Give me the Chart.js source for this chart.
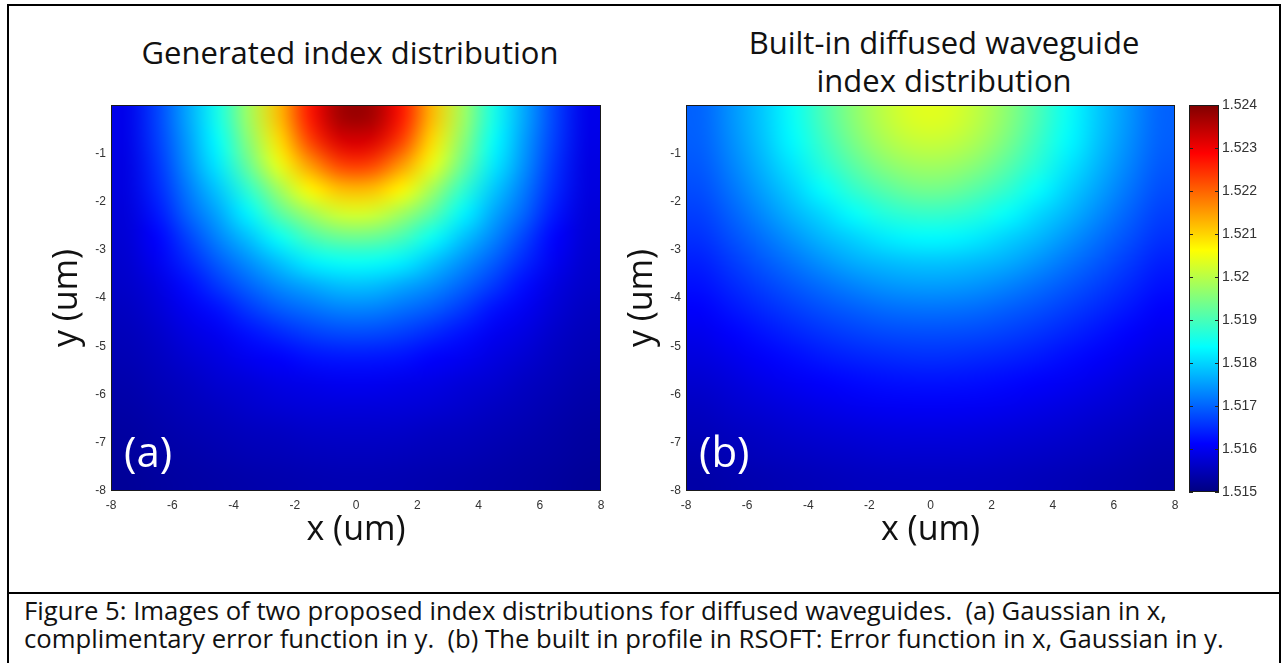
<!DOCTYPE html>
<html>
<head>
<meta charset="utf-8">
<script src="https://cdn.jsdelivr.net/npm/chart.js@4.4.1/dist/chart.umd.min.js"></script>
<style>
  body { margin: 0; width: 1285px; height: 663px; background: #fff; position: relative; overflow: hidden; font-family: 'Open Sans', sans-serif; color: #111; }
  canvas { position: absolute; top: 0; }
  .frame { position: absolute; left: 7px; top: 4px; width: 1274px; height: 590px; border: 2px solid #000; box-sizing: border-box; }
  .capbox { position: absolute; left: 7px; top: 592px; width: 1274px; height: 90px; border-left: 2px solid #000; border-right: 2px solid #000; box-sizing: border-box; }
  .title { position: absolute; font-size: 31px; line-height: 38px; text-align: center; transform: translateX(-50%); white-space: nowrap; }
  .tag { position: absolute; font-size: 42px; line-height: 48px; color: #fff; }
  .caption { position: absolute; left: 24px; top: 597px; font-size: 25.7px; line-height: 28px; white-space: pre; }
</style>
</head>
<body>
<div class="frame"></div>
<div class="capbox"></div>
<div class="title" style="left:350px; top:33px;">Generated index distribution</div>
<div class="title" style="left:944px; top:23px;">Built-in diffused waveguide<br>index distribution</div>

<canvas id="chartA" width="640" height="592" style="left:0px"></canvas>
<canvas id="chartB" width="580" height="592" style="left:620px"></canvas>
<canvas id="chartBar" width="105" height="592" style="left:1180px"></canvas>

<div class="tag" style="left:124px; top:427px;">(a)</div>
<div class="tag" style="left:699px; top:427px;">(b)</div>
<div class="caption">Figure 5: Images of two proposed index distributions for diffused waveguides.  (a) Gaussian in x,
complimentary error function in y.  (b) The built in profile in RSOFT: Error function in x, Gaussian in y.</div>

<script>
// grid cell centres (um)
var xCells = [-7.5, -6.5, -5.5, -4.5, -3.5, -2.5, -1.5, -0.5, 0.5, 1.5, 2.5, 3.5, 4.5, 5.5, 6.5, 7.5];
var yCells = [-0.25, -0.75, -1.25, -1.75, -2.25, -2.75, -3.25, -3.75, -4.25, -4.75, -5.25, -5.75, -6.25, -6.75, -7.25, -7.75];

var xTicks = [-8, -6, -4, -2, 0, 2, 4, 6, 8];
var yTicks = [-1, -2, -3, -4, -5, -6, -7, -8];
var colorbarTicks = [1.515, 1.516, 1.517, 1.518, 1.519, 1.52, 1.521, 1.522, 1.523, 1.524];

var indexMin = 1.515;
var indexMax = 1.524;

// index above 1.515, in units of 1e-3 (rows top to bottom, columns left to right)
var generatedRows = [
    [0.95, 1.7, 2.6, 3.55, 4.8, 6.2, 7.7, 8.7, 8.7, 7.7, 6.2, 4.8, 3.55, 2.6, 1.7, 0.95],
    [0.92, 1.65, 2.5, 3.4, 4.6, 5.9, 7.3, 8.2, 8.2, 7.3, 5.9, 4.6, 3.4, 2.5, 1.65, 0.92],
    [0.88, 1.55, 2.4, 3.2, 4.3, 5.45, 6.5, 7.3, 7.3, 6.5, 5.45, 4.3, 3.2, 2.4, 1.55, 0.88],
    [0.85, 1.45, 2.2, 2.9, 3.8, 4.8, 5.7, 6.2, 6.2, 5.7, 4.8, 3.8, 2.9, 2.2, 1.45, 0.85],
    [0.8, 1.3, 2.0, 2.6, 3.3, 4.15, 4.8, 5.25, 5.25, 4.8, 4.15, 3.3, 2.6, 2.0, 1.3, 0.8],
    [0.75, 1.12, 1.7, 2.3, 2.85, 3.45, 4.0, 4.3, 4.3, 4.0, 3.45, 2.85, 2.3, 1.7, 1.12, 0.75],
    [0.7, 1.0, 1.45, 1.95, 2.4, 2.85, 3.25, 3.45, 3.45, 3.25, 2.85, 2.4, 1.95, 1.45, 1.0, 0.7],
    [0.65, 0.85, 1.2, 1.6, 2.0, 2.35, 2.6, 2.8, 2.8, 2.6, 2.35, 2.0, 1.6, 1.2, 0.85, 0.65],
    [0.58, 0.75, 1.0, 1.25, 1.6, 1.9, 2.1, 2.25, 2.25, 2.1, 1.9, 1.6, 1.25, 1.0, 0.75, 0.58],
    [0.52, 0.65, 0.85, 1.0, 1.25, 1.45, 1.65, 1.75, 1.75, 1.65, 1.45, 1.25, 1.0, 0.85, 0.65, 0.52],
    [0.46, 0.57, 0.72, 0.85, 1.0, 1.1, 1.25, 1.3, 1.3, 1.25, 1.1, 1.0, 0.85, 0.72, 0.57, 0.46],
    [0.4, 0.5, 0.6, 0.72, 0.8, 0.9, 0.95, 1.0, 1.0, 0.95, 0.9, 0.8, 0.72, 0.6, 0.5, 0.4],
    [0.35, 0.43, 0.52, 0.6, 0.68, 0.75, 0.8, 0.82, 0.82, 0.8, 0.75, 0.68, 0.6, 0.52, 0.43, 0.35],
    [0.3, 0.37, 0.44, 0.5, 0.56, 0.6, 0.65, 0.67, 0.67, 0.65, 0.6, 0.56, 0.5, 0.44, 0.37, 0.3],
    [0.26, 0.32, 0.37, 0.42, 0.47, 0.5, 0.53, 0.55, 0.55, 0.53, 0.5, 0.47, 0.42, 0.37, 0.32, 0.26],
    [0.22, 0.27, 0.31, 0.35, 0.38, 0.41, 0.44, 0.45, 0.45, 0.44, 0.41, 0.38, 0.35, 0.31, 0.27, 0.22]
];

var builtInRows = [
    [2.0, 2.43, 2.9, 3.44, 4.03, 4.6, 5.05, 5.33, 5.33, 5.05, 4.6, 4.03, 3.44, 2.9, 2.43, 2.0],
    [1.97, 2.38, 2.85, 3.35, 3.9, 4.45, 4.88, 5.12, 5.12, 4.88, 4.45, 3.9, 3.35, 2.85, 2.38, 1.97],
    [1.9, 2.28, 2.72, 3.17, 3.7, 4.17, 4.57, 4.78, 4.78, 4.57, 4.17, 3.7, 3.17, 2.72, 2.28, 1.9],
    [1.8, 2.15, 2.55, 2.96, 3.4, 3.82, 4.14, 4.37, 4.37, 4.14, 3.82, 3.4, 2.96, 2.55, 2.15, 1.8],
    [1.68, 1.99, 2.35, 2.72, 3.05, 3.41, 3.68, 3.83, 3.83, 3.68, 3.41, 3.05, 2.72, 2.35, 1.99, 1.68],
    [1.55, 1.82, 2.12, 2.44, 2.75, 2.99, 3.21, 3.33, 3.33, 3.21, 2.99, 2.75, 2.44, 2.12, 1.82, 1.55],
    [1.39, 1.64, 1.9, 2.16, 2.42, 2.65, 2.78, 2.86, 2.86, 2.78, 2.65, 2.42, 2.16, 1.9, 1.64, 1.39],
    [1.25, 1.46, 1.68, 1.89, 2.1, 2.28, 2.42, 2.49, 2.49, 2.42, 2.28, 2.1, 1.89, 1.68, 1.46, 1.25],
    [1.1, 1.28, 1.47, 1.65, 1.81, 1.95, 2.06, 2.11, 2.11, 2.06, 1.95, 1.81, 1.65, 1.47, 1.28, 1.1],
    [0.96, 1.11, 1.27, 1.42, 1.56, 1.67, 1.75, 1.79, 1.79, 1.75, 1.67, 1.56, 1.42, 1.27, 1.11, 0.96],
    [0.83, 0.95, 1.08, 1.2, 1.32, 1.41, 1.47, 1.51, 1.51, 1.47, 1.41, 1.32, 1.2, 1.08, 0.95, 0.83],
    [0.71, 0.81, 0.92, 1.02, 1.1, 1.18, 1.23, 1.26, 1.26, 1.23, 1.18, 1.1, 1.02, 0.92, 0.81, 0.71],
    [0.6, 0.69, 0.77, 0.85, 0.92, 0.98, 1.03, 1.05, 1.05, 1.03, 0.98, 0.92, 0.85, 0.77, 0.69, 0.6],
    [0.51, 0.58, 0.64, 0.71, 0.76, 0.81, 0.84, 0.86, 0.86, 0.84, 0.81, 0.76, 0.71, 0.64, 0.58, 0.51],
    [0.42, 0.48, 0.54, 0.59, 0.63, 0.67, 0.7, 0.71, 0.71, 0.7, 0.67, 0.63, 0.59, 0.54, 0.48, 0.42],
    [0.35, 0.4, 0.44, 0.48, 0.52, 0.55, 0.57, 0.58, 0.58, 0.57, 0.55, 0.52, 0.48, 0.44, 0.4, 0.35]
];

var tickFont = { family: 'Liberation Sans', size: 12 };
var tickColor = '#333';
var labelFont = { family: 'Open Sans', size: 34, lineHeight: 1.3 };

// matlab "jet" colour map
function jet(v) {
    var t = (v - indexMin) / (indexMax - indexMin);
    function ch(c) { return Math.round(255 * Math.max(0, Math.min(1, 1.5 - Math.abs(4 * t - c)))); }
    return 'rgb(' + ch(3) + ',' + ch(2) + ',' + ch(1) + ')';
}

// one pixel per cell, then stretched over the cell rectangle given by the scales (smoothed like shading interp)
var heatmapPlugin = {
    id: 'heatmap',
    beforeDatasetsDraw: function (chart, args, opts) {
        var ctx = chart.ctx, xs = chart.scales.x, ys = chart.scales.y;
        var rows = opts.rows;
        var hx = (xCells[1] - xCells[0]) / 2, hy = (yCells[0] - yCells[1]) / 2;

        var off = document.createElement('canvas');
        off.width = xCells.length;
        off.height = yCells.length;
        var octx = off.getContext('2d');
        rows.forEach(function (row, i) {
            row.forEach(function (d, j) {
                octx.fillStyle = jet(indexMin + d / 1000);
                octx.fillRect(j, i, 1, 1);
            });
        });

        var x0 = xs.getPixelForValue(xCells[0] - hx);
        var x1 = xs.getPixelForValue(xCells[xCells.length - 1] + hx);
        var y0 = ys.getPixelForValue(yCells[0] + hy);
        var y1 = ys.getPixelForValue(yCells[yCells.length - 1] - hy);

        ctx.save();
        ctx.imageSmoothingEnabled = true;
        ctx.imageSmoothingQuality = 'high';
        ctx.drawImage(off, x0, y0, x1 - x0, y1 - y0);
        ctx.restore();
    },
    afterDatasetsDraw: function (chart) {
        var ctx = chart.ctx, a = chart.chartArea;
        ctx.save();
        ctx.strokeStyle = '#1a1a1a';
        ctx.lineWidth = 1;
        ctx.strokeRect(a.left + 0.5, a.top + 0.5, a.right - a.left - 1, a.bottom - a.top - 1);
        ctx.restore();
    }
};

function heatConfig(rows, padLeft, padRight) {
    return {
        type: 'scatter',
        data: { datasets: [{ data: [] }] },
        options: {
            responsive: false,
            animation: false,
            layout: { padding: { left: padLeft, right: padRight, top: 105, bottom: 40 } },
            plugins: {
                legend: { display: false },
                tooltip: { enabled: false },
                heatmap: { rows: rows }
            },
            scales: {
                x: {
                    type: 'linear', min: -8, max: 8,
                    grid: { display: false, drawTicks: false },
                    border: { display: false },
                    afterBuildTicks: function (s) { s.ticks = xTicks.map(function (v) { return { value: v }; }); },
                    afterFit: function (s) { s.height = 61; },
                    ticks: { padding: 7, color: tickColor, font: tickFont, maxRotation: 0, autoSkip: false },
                    title: { display: true, text: 'x (um)', font: labelFont, color: '#111', padding: 0 }
                },
                y: {
                    type: 'linear', min: -8, max: 0,
                    grid: { display: false, drawTicks: false },
                    border: { display: false },
                    afterBuildTicks: function (s) { s.ticks = yTicks.map(function (v) { return { value: v }; }); },
                    afterFit: function (s) { s.width = 66; },
                    ticks: { padding: 5, color: tickColor, font: tickFont, autoSkip: false },
                    title: { display: true, text: 'y (um)', font: labelFont, color: '#111', padding: 0 }
                }
            }
        },
        plugins: [heatmapPlugin]
    };
}

var colorbarPlugin = {
    id: 'colorbar',
    beforeDatasetsDraw: function (chart) {
        var ctx = chart.ctx, a = chart.chartArea, ys = chart.scales.y;
        var g = ctx.createLinearGradient(0, ys.getPixelForValue(indexMin), 0, ys.getPixelForValue(indexMax));
        [0, 0.125, 0.375, 0.625, 0.875, 1].forEach(function (t) {
            g.addColorStop(t, jet(indexMin + t * (indexMax - indexMin)));
        });
        ctx.save();
        ctx.fillStyle = g;
        ctx.fillRect(a.left, a.top, a.right - a.left, a.bottom - a.top);
        ctx.strokeStyle = '#222';
        ctx.lineWidth = 1;
        colorbarTicks.forEach(function (v) {
            var y = Math.round(ys.getPixelForValue(v)) + 0.5;
            ctx.beginPath();
            ctx.moveTo(a.left, y); ctx.lineTo(a.left + 4, y);
            ctx.moveTo(a.right, y); ctx.lineTo(a.right - 4, y);
            ctx.stroke();
        });
        ctx.strokeStyle = '#1a1a1a';
        ctx.strokeRect(a.left + 0.5, a.top + 0.5, a.right - a.left - 1, a.bottom - a.top - 1);
        ctx.restore();
    }
};

new Chart(document.getElementById('chartA'), heatConfig(generatedRows, 45, 39));
new Chart(document.getElementById('chartB'), heatConfig(builtInRows, 0, 25));

new Chart(document.getElementById('chartBar'), {
    type: 'scatter',
    data: { datasets: [{ data: [] }] },
    options: {
        responsive: false,
        animation: false,
        layout: { padding: { left: 9, right: 0, top: 105, bottom: 100 } },
        plugins: { legend: { display: false }, tooltip: { enabled: false } },
        scales: {
            x: { display: false, min: 0, max: 1 },
            y: {
                type: 'linear', position: 'right', min: indexMin, max: indexMax,
                grid: { display: false, drawTicks: false },
                border: { display: false },
                afterBuildTicks: function (s) { s.ticks = colorbarTicks.map(function (v) { return { value: v }; }); },
                afterFit: function (s) { s.width = 66; },
                ticks: {
                    padding: 3, color: tickColor, font: { family: 'Liberation Sans', size: 14 }, autoSkip: false,
                    callback: function (v) { return String(Number(v.toFixed(3))); }
                }
            }
        }
    },
    plugins: [colorbarPlugin]
});
</script>
</body>
</html>
